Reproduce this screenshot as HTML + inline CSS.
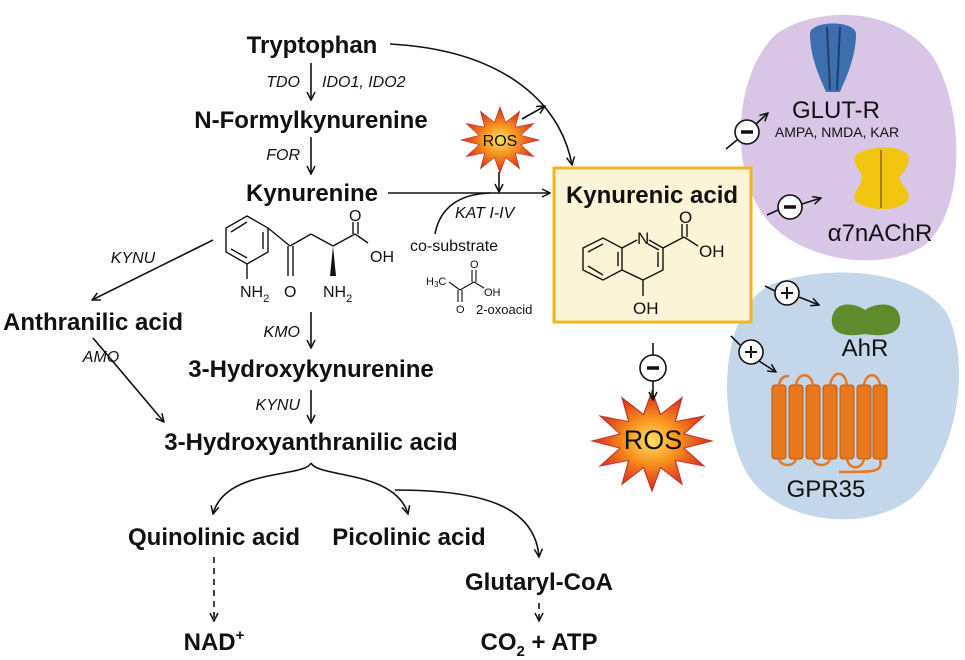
<!DOCTYPE html>
<html><head><meta charset="utf-8"><style>
html,body{margin:0;padding:0;background:#fff}
svg{display:block}
text{font-family:"Liberation Sans",sans-serif;fill:#111}
.b{font-weight:bold;font-size:24px}
.i{font-style:italic;font-size:16px}
</style></head><body>
<svg width="965" height="660" viewBox="0 0 965 660" xmlns="http://www.w3.org/2000/svg">
<defs>
<marker id="a" viewBox="0 0 10 10" refX="9" refY="5" markerWidth="10" markerHeight="10" orient="auto" markerUnits="userSpaceOnUse"><path d="M1,1 L9,5 L1,9" fill="none" stroke="#111" stroke-width="1.5"/></marker>
<radialGradient id="sg"><stop offset="0" stop-color="#ffe066"/><stop offset="0.45" stop-color="#f7931e"/><stop offset="1" stop-color="#d9261c"/></radialGradient>
<g id="star"><polygon points="1,0 .531,.142 .866,.5 .389,.389 .5,.866 .142,.531 0,1 -.142,.531 -.5,.866 -.389,.389 -.866,.5 -.531,.142 -1,0 -.531,-.142 -.866,-.5 -.389,-.389 -.5,-.866 -.142,-.531 0,-1 .142,-.531 .5,-.866 .389,-.389 .866,-.5 .531,-.142" fill="url(#sg)" stroke="#c0392b" stroke-width="0.02"/></g>
</defs>
<!-- blobs -->
<path d="M775,35 C815,5 900,5 935,60 C965,115 965,210 925,245 C880,275 790,260 760,210 C730,160 735,75 775,35Z" fill="#d9c6e6"/>
<path d="M770,285 C830,262 920,270 948,315 C972,370 955,455 915,495 C870,535 775,525 745,470 C715,410 722,310 770,285Z" fill="#c4d6ea"/>
<g fill="none" stroke="#111" stroke-width="1.6">
<line x1="311" y1="63" x2="311" y2="100" marker-end="url(#a)"/>
<line x1="311" y1="137" x2="311" y2="174" marker-end="url(#a)"/>
<line x1="388" y1="193" x2="550" y2="193" marker-end="url(#a)"/>
<path d="M390,44 C500,50 560,100 572,165" marker-end="url(#a)"/>
<path d="M435,234 C440,207 460,194 490,193"/>
<line x1="499" y1="172" x2="499" y2="192" marker-end="url(#a)"/>
<line x1="522" y1="119" x2="545" y2="106" marker-end="url(#a)"/>
<line x1="213" y1="240" x2="92" y2="300" marker-end="url(#a)"/>
<line x1="93" y1="338" x2="164" y2="422" marker-end="url(#a)"/>
<line x1="311" y1="312" x2="311" y2="348" marker-end="url(#a)"/>
<line x1="311" y1="390" x2="311" y2="423" marker-end="url(#a)"/>
<path d="M311,463 C305,478 225,468 213,514" marker-end="url(#a)"/>
<path d="M311,463 C318,478 395,470 408,514" marker-end="url(#a)"/>
<path d="M395,490 C480,490 535,505 539,557" marker-end="url(#a)"/>
<line x1="214" y1="557" x2="214" y2="621" stroke-dasharray="6,5" marker-end="url(#a)"/>
<line x1="539" y1="603" x2="539" y2="621" stroke-dasharray="6,5" marker-end="url(#a)"/>
</g>
<text class="b" x="312" y="53" text-anchor="middle">Tryptophan</text>
<text class="i" x="300" y="87" text-anchor="end">TDO</text>
<text class="i" x="322" y="87">IDO1, IDO2</text>
<text class="b" x="311" y="128" text-anchor="middle">N-Formylkynurenine</text>
<text class="i" x="300" y="160" text-anchor="end">FOR</text>
<text class="b" x="312" y="201" text-anchor="middle">Kynurenine</text>
<text class="i" x="455" y="218">KAT I-IV</text>
<text x="410" y="251" style="font-size:16px">co-substrate</text>
<text x="476" y="314" style="font-size:13px">2-oxoacid</text>
<text class="i" x="133" y="263" text-anchor="middle">KYNU</text>
<text class="b" x="3" y="330">Anthranilic acid</text>
<text class="i" x="101" y="362" text-anchor="middle">AMO</text>
<text class="i" x="300" y="337" text-anchor="end">KMO</text>
<text class="b" x="311" y="377" text-anchor="middle">3-Hydroxykynurenine</text>
<text class="i" x="300" y="410" text-anchor="end">KYNU</text>
<text class="b" x="311" y="450" text-anchor="middle">3-Hydroxyanthranilic acid</text>
<text class="b" x="214" y="545" text-anchor="middle">Quinolinic acid</text>
<text class="b" x="409" y="545" text-anchor="middle">Picolinic acid</text>
<text class="b" x="539" y="590" text-anchor="middle">Glutaryl-CoA</text>
<text class="b" x="214" y="650" text-anchor="middle">NAD<tspan dy="-10" font-size="15">+</tspan></text>
<text class="b" x="539" y="650" text-anchor="middle">CO<tspan dy="6" font-size="15">2</tspan><tspan dy="-6"> + ATP</tspan></text>
<!-- kynurenine structure -->
<g fill="none" stroke="#111" stroke-width="1.4">
<polygon points="247,216 268,228 268,252 247,264 226,252 226,228"/>
<line x1="231" y1="232" x2="247" y2="222"/><line x1="263" y1="249" x2="263" y2="232"/><line x1="231" y1="249" x2="247" y2="258"/>
<line x1="247" y1="264" x2="247" y2="279"/>
<line x1="268" y1="228" x2="290" y2="246"/><line x1="288" y1="246" x2="288" y2="276"/><line x1="293" y1="246" x2="293" y2="276"/>
<line x1="290" y1="246" x2="311" y2="234"/><line x1="311" y1="234" x2="333" y2="246"/><line x1="333" y1="246" x2="355" y2="234"/>
<line x1="353" y1="234" x2="353" y2="222"/><line x1="358" y1="234" x2="358" y2="222"/><line x1="355" y1="234" x2="368" y2="243"/>
</g>
<polygon points="333,246 330,276 336,276" fill="#111"/>
<text x="349" y="221" style="font-size:16px">O</text>
<text x="370" y="262" style="font-size:16px">OH</text>
<text x="240" y="297" style="font-size:16px">NH<tspan dy="5" font-size="11">2</tspan></text>
<text x="284" y="297" style="font-size:16px">O</text>
<text x="323" y="297" style="font-size:16px">NH<tspan dy="5" font-size="11">2</tspan></text>
<!-- pyruvate -->
<g fill="none" stroke="#111" stroke-width="1.1"><line x1="449" y1="282" x2="460" y2="290"/><line x1="458" y1="290" x2="458" y2="302"/><line x1="462" y1="290" x2="462" y2="302"/><line x1="460" y1="290" x2="474" y2="282"/><line x1="472" y1="282" x2="472" y2="270"/><line x1="476" y1="282" x2="476" y2="270"/><line x1="474" y1="282" x2="484" y2="288"/></g>
<text x="426" y="285" style="font-size:11px">H<tspan font-size="8" dy="2">3</tspan><tspan dy="-2">C</tspan></text>
<text x="470" y="268" style="font-size:11px">O</text>
<text x="484" y="296" style="font-size:11px">OH</text>
<text x="456" y="313" style="font-size:11px">O</text>
<!-- small ROS -->
<use href="#star" transform="translate(500,140) scale(39,33)"/>
<text x="500" y="146" text-anchor="middle" style="font-size:16px">ROS</text>
<!-- KYNA box -->
<rect x="554" y="168" width="197" height="154" fill="#fcf4d6" stroke="#f0b429" stroke-width="3"/>
<text class="b" x="652" y="203" text-anchor="middle">Kynurenic acid</text>
<g fill="none" stroke="#111" stroke-width="1.4">
<polygon points="583,248 603,238 622,248 622,270 603,280 583,270"/>
<polyline points="622,248 637,240"/><polyline points="649,240 663,248 663,270 643,280 622,270"/>
<line x1="588" y1="252" x2="603" y2="244"/><line x1="588" y1="266" x2="603" y2="275"/><line x1="618" y1="252" x2="618" y2="266"/><line x1="658" y1="252" x2="658" y2="267"/><line x1="648" y1="244" x2="659" y2="250"/>
<line x1="663" y1="248" x2="684" y2="237"/><line x1="682" y1="237" x2="682" y2="224"/><line x1="687" y1="237" x2="687" y2="224"/><line x1="684" y1="237" x2="698" y2="246"/>
<line x1="643" y1="280" x2="643" y2="296"/>
</g>
<text x="637" y="244" style="font-size:17px">N</text>
<text x="679" y="223" style="font-size:17px">O</text>
<text x="699" y="257" style="font-size:17px">OH</text>
<text x="633" y="314" style="font-size:17px">OH</text>
<!-- big ROS -->
<use href="#star" transform="translate(652,441) scale(60,50)"/>
<text x="653" y="449" text-anchor="middle" style="font-size:27px">ROS</text>
<g fill="none" stroke="#111" stroke-width="1.6">
<line x1="653" y1="343" x2="653" y2="355"/>
<circle cx="653" cy="368" r="13" fill="#fff"/>
<line x1="653" y1="381" x2="653" y2="400" marker-end="url(#a)"/>
<line x1="726" y1="149" x2="737" y2="140"/><circle cx="747" cy="132" r="12" fill="#fff"/><line x1="756" y1="124" x2="768" y2="113" marker-end="url(#a)"/>
<line x1="767" y1="215" x2="778" y2="210"/><circle cx="790" cy="207" r="12" fill="#fff"/><line x1="802" y1="204" x2="821" y2="198" marker-end="url(#a)"/>
<line x1="765" y1="286" x2="775" y2="291"/><circle cx="787" cy="293" r="12" fill="#fff"/><line x1="799" y1="297" x2="819" y2="305" marker-end="url(#a)"/>
<line x1="731" y1="336" x2="740" y2="345"/><circle cx="751" cy="352" r="12" fill="#fff"/><line x1="759" y1="361" x2="776" y2="372" marker-end="url(#a)"/>
</g>
<g stroke="#111" stroke-width="3.5"><line x1="647" y1="368" x2="659" y2="368"/><line x1="741" y1="132" x2="753" y2="132"/><line x1="784" y1="207" x2="796" y2="207"/></g>
<g stroke="#111" stroke-width="2"><line x1="781" y1="293" x2="793" y2="293"/><line x1="787" y1="287" x2="787" y2="299"/><line x1="745" y1="352" x2="757" y2="352"/><line x1="751" y1="346" x2="751" y2="358"/></g>
<!-- receptors -->
<path d="M810,34 C810,20 856,20 856,34 C856,58 845,80 840,92 L826,92 C821,80 810,58 810,34Z" fill="#3d6fae"/>
<line x1="827" y1="27" x2="830" y2="90" stroke="#1f3f6e" stroke-width="2"/><line x1="840" y1="27" x2="837" y2="90" stroke="#1f3f6e" stroke-width="2"/>
<text x="836" y="118" text-anchor="middle" style="font-size:24px">GLUT-R</text>
<text x="837" y="137" text-anchor="middle" style="font-size:14px">AMPA, NMDA, KAR</text>
<path d="M856,155 C870,145 900,145 908,155 C912,168 900,172 900,178 C900,186 912,190 908,200 C900,212 870,212 856,202 C850,194 862,186 862,178 C862,170 850,163 856,155Z" fill="#f1c40f"/>
<line x1="881" y1="150" x2="881" y2="208" stroke="#a77f00" stroke-width="2"/>
<text x="880" y="241" text-anchor="middle" style="font-size:24px">α7nAChR</text>
<path d="M832,318 C835,300 855,303 865,310 C875,303 898,300 900,318 C902,332 888,338 865,334 C842,338 830,332 832,318Z" fill="#5e8b2c"/>
<text x="865" y="356" text-anchor="middle" style="font-size:24px">AhR</text>
<g fill="#e8781e" stroke="#b85a10" stroke-width="1">
<rect x="772" y="385" width="14" height="74" rx="3"/><rect x="789" y="385" width="14" height="74" rx="3"/><rect x="806" y="385" width="14" height="74" rx="3"/><rect x="823" y="385" width="14" height="74" rx="3"/><rect x="840" y="385" width="14" height="74" rx="3"/><rect x="857" y="385" width="14" height="74" rx="3"/><rect x="873" y="385" width="14" height="74" rx="3"/>
</g>
<g fill="none" stroke="#e8781e" stroke-width="2.5"><path d="M779,385 C780,378 784,376 789,376"/><path d="M796,385 C798,372 811,372 813,385"/><path d="M830,385 C833,370 845,370 847,385"/><path d="M864,385 C866,372 878,372 880,385"/><path d="M779,459 C781,467 794,467 796,459"/><path d="M813,459 C815,467 828,467 830,459"/><path d="M847,459 C849,470 862,470 864,459"/><path d="M880,459 C883,472 876,472 839,472"/></g>
<text x="826" y="497" text-anchor="middle" style="font-size:24px">GPR35</text>
</svg>
</body></html>
